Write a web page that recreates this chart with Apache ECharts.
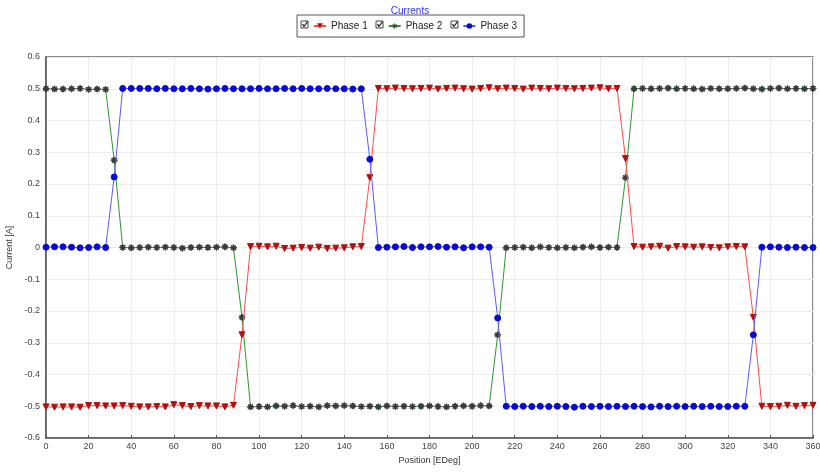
<!DOCTYPE html>
<html>
<head>
<meta charset="utf-8">
<script src="https://cdn.jsdelivr.net/npm/echarts@6/dist/echarts.min.js"></script>
<style>
html,body{margin:0;padding:0;background:#fff;}
#chart{width:820px;height:472px;}
</style>
</head>
<body>
<div id="chart"></div>
<script>
// Position in electrical degrees (step 4)
const positions = [0,4,8,12,16,20,24,28,32,36,40,44,48,52,56,60,64,68,72,76,80,84,88,92,96,100,104,108,112,116,120,124,128,132,136,140,144,148,152,156,160,164,168,172,176,180,184,188,192,196,200,204,208,212,216,220,224,228,232,236,240,244,248,252,256,260,264,268,272,276,280,284,288,292,296,300,304,308,312,316,320,324,328,332,336,340,344,348,352,356,360];

const phase1 = [
 -0.502,-0.503,-0.502,-0.502,-0.503,-0.498,-0.498,-0.499,-0.499,-0.498,-0.500,-0.502,-0.502,-0.501,-0.502,-0.495,-0.498,-0.501,-0.498,-0.499,-0.499,-0.502,-0.497,
 -0.275,
 0.003,0.004,0.002,0.004,-0.003,-0.002,0.000,-0.002,0.001,-0.003,-0.002,-0.001,0.002,0.003,
 0.220,
 0.501,0.500,0.502,0.501,0.500,0.501,0.502,0.499,0.501,0.502,0.500,0.499,0.501,0.503,0.500,0.502,0.501,0.499,0.502,0.501,0.500,0.502,0.501,0.500,0.501,0.502,0.503,0.500,0.501,
 0.280,
 0.003,0.001,0.002,0.004,-0.002,0.003,0.002,0.001,0.002,0.000,-0.001,0.002,0.003,0.002,
 -0.220,
 -0.500,-0.501,-0.500,-0.497,-0.500,-0.498,-0.497
];

const phase2 = [
 0.500,0.499,0.499,0.500,0.501,0.498,0.499,0.498,
 0.275,
 0.000,-0.001,0.000,0.001,0.000,0.001,0.000,-0.002,0.000,0.001,0.000,0.001,0.002,-0.001,
 -0.220,
 -0.502,-0.501,-0.502,-0.499,-0.500,-0.498,-0.501,-0.500,-0.502,-0.498,-0.499,-0.498,-0.499,-0.501,-0.500,-0.502,-0.499,-0.501,-0.500,-0.501,-0.500,-0.499,-0.501,-0.502,-0.500,-0.499,-0.500,-0.498,-0.499,
 -0.275,
 -0.001,0.000,0.001,-0.001,0.002,0.000,-0.001,0.000,-0.001,0.001,0.002,0.000,0.001,0.000,
 0.220,
 0.500,0.501,0.500,0.501,0.502,0.500,0.501,0.500,0.499,0.501,0.500,0.500,0.501,0.502,0.500,0.499,0.501,0.502,0.500,0.501,0.500,0.501
];

const phase3 = [
 0.001,0.002,0.002,0.001,-0.001,0.000,0.002,0.000,
 0.222,
 0.501,0.501,0.501,0.501,0.500,0.501,0.500,0.500,0.501,0.500,0.499,0.500,0.501,0.500,0.500,0.500,0.501,0.500,0.500,0.501,0.500,0.501,0.500,0.500,0.501,0.500,0.500,0.499,0.500,
 0.278,
 0.000,0.001,0.002,0.003,0.000,0.002,0.002,0.003,0.001,0.002,-0.001,0.002,0.002,0.001,
 -0.222,
 -0.500,-0.501,-0.500,-0.501,-0.500,-0.501,-0.500,-0.501,-0.503,-0.500,-0.501,-0.500,-0.501,-0.500,-0.501,-0.500,-0.501,-0.502,-0.500,-0.501,-0.500,-0.501,-0.500,-0.501,-0.500,-0.501,-0.501,-0.500,-0.500,
 -0.275,
 0.001,0.002,0.001,0.000,0.001,0.000,0.000
];

const seriesNames = ['Phase 1','Phase 2','Phase 3'];

function pairs(vals){ return positions.map((x,i)=>[x, vals[i]]); }

const starPath = 'path://M-0.8,-6 L0.8,-6 L0.8,6 L-0.8,6 Z M-6,-0.8 L6,-0.8 L6,0.8 L-6,0.8 Z M-4.8,-3.7 L-3.7,-4.8 L4.8,3.7 L3.7,4.8 Z M3.7,-4.8 L4.8,-3.7 L-3.7,4.8 L-4.8,3.7 Z';

const chart = echarts.init(document.getElementById('chart'), null, {renderer:'canvas'});

function checkbox(x,y){
  return {
    type:'group', x:x, y:y, silent:true,
    children:[
      {type:'rect', shape:{x:0,y:0,width:7,height:7}, style:{fill:'#fff', stroke:'#444', lineWidth:1}},
      {type:'polyline', shape:{points:[[1.5,3],[3,5.5],[6.5,0.5]]}, style:{fill:null, stroke:'#111', lineWidth:1.2}}
    ]
  };
}

const option = {
  backgroundColor:'#fff',
  animation:false,
  textStyle:{fontFamily:'Liberation Sans, Arial, sans-serif'},
  title:{
    text:'Currents', left:'center', top:1,
    textStyle:{color:'#3333ee', fontSize:10, fontWeight:'normal', fontFamily:'Liberation Sans, Arial, sans-serif'}
  },
  legend:{
    left:297, top:15,
    padding:[6,7,6,16],
    borderColor:'#555', borderWidth:1,
    itemWidth:12, itemHeight:7, itemGap:20,
    textStyle:{fontSize:10, color:'#222', fontFamily:'Liberation Sans, Arial, sans-serif'},
    data:seriesNames
  },
  graphic:[checkbox(301,21), checkbox(376,21), checkbox(451,21)],
  grid:{left:46, right:7, top:57, bottom:34, show:true, borderColor:'#666', borderWidth:1.5, containLabel:false, outerBoundsMode:'none'},
  xAxis:{
    type:'value', min:0, max:360, interval:20,
    name:'Position [EDeg]', nameLocation:'middle', nameGap:18,
    nameTextStyle:{fontSize:9, color:'#333'},
    axisLine:{show:true, onZero:false, lineStyle:{color:'#555', width:1.5}},
    axisTick:{show:true, inside:true, length:3, lineStyle:{color:'#555'}},
    axisLabel:{fontSize:9, color:'#444', margin:4},
    splitLine:{show:true, lineStyle:{color:'#ececec', width:1}}
  },
  yAxis:{
    type:'value', min:-0.6, max:0.6, interval:0.1,
    name:'Current [A]', nameLocation:'middle', nameGap:30, nameRotate:90,
    nameTextStyle:{fontSize:9, color:'#333'},
    axisLine:{show:true, onZero:false, lineStyle:{color:'#555', width:1.5}},
    axisTick:{show:false},
    axisLabel:{fontSize:9, color:'#444', margin:6, formatter:v=>String(Math.round(v*10)/10)},
    splitLine:{show:true, lineStyle:{color:'#ececec', width:1}}
  },
  series:[
    {
      name:seriesNames[0], type:'line', data:pairs(phase1),
      symbol:'triangle', symbolRotate:180, symbolSize:6,
      lineStyle:{color:'#ff4a4a', width:1},
      itemStyle:{color:'#b01010', borderColor:'#b01010'},
      z:3
    },
    {
      name:seriesNames[1], type:'line', data:pairs(phase2),
      symbol:starPath, symbolSize:6,
      lineStyle:{color:'#2e962e', width:1},
      itemStyle:{color:'#3a3a3a', borderColor:'#3a3a3a'},
      z:2
    },
    {
      name:seriesNames[2], type:'line', data:pairs(phase3),
      symbol:'circle', symbolSize:6,
      lineStyle:{color:'#5a5aff', width:1},
      itemStyle:{color:'#0a0ad0', borderColor:'#0a0ad0'},
      z:4
    }
  ]
};
chart.setOption(option);
</script>
</body>
</html>
